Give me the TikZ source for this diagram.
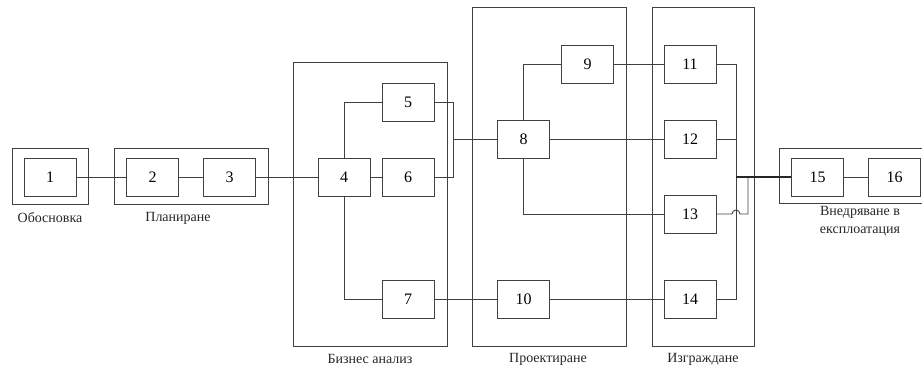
\documentclass[tikz,border=0pt]{standalone}
\usepackage{fontspec}
\setmainfont{Liberation Serif}
\begin{document}
\begin{tikzpicture}[x=1pt,y=-1pt,
  ln/.style={draw=black!75,line width=0.9pt},
  box/.style={ln,minimum width=52pt,minimum height=38pt,inner sep=0pt,font=\fontsize{16}{16}\selectfont},
  frame/.style={ln},
  lab/.style={font=\fontsize{14}{18}\selectfont,align=center,text=black!85}]
\useasboundingbox (0,0) rectangle (922,369);
% frames
\draw[frame] (12,148) rectangle (88,204);
\draw[frame] (114,148) rectangle (268,204);
\draw[frame] (293,62) rectangle (447,346);
\draw[frame] (472,7) rectangle (626,346);
\draw[frame] (652,7) rectangle (754,346);
\draw[frame] (930,148) -- (779,148) -- (779,203) -- (930,203);
% boxes
\node[box] (b1) at (50,177) {1};
\node[box] (b2) at (152.5,177) {2};
\node[box] (b3) at (229.5,177) {3};
\node[box] (b4) at (344,177) {4};
\node[box] (b5) at (408,102) {5};
\node[box] (b6) at (408,177) {6};
\node[box] (b7) at (408,299) {7};
\node[box] (b8) at (523.5,139) {8};
\node[box] (b9) at (587.5,64) {9};
\node[box] (b10) at (523.5,299) {10};
\node[box] (b11) at (690,64) {11};
\node[box] (b12) at (690,139) {12};
\node[box] (b13) at (690,214) {13};
\node[box] (b14) at (690,299) {14};
\node[box] (b15) at (817.5,177) {15};
\node[box] (b16) at (894.5,177) {16};
% coordinates
\coordinate (m1) at (453,139);
\coordinate (r5) at (453,102);
\coordinate (r6) at (453,177);
\coordinate (j11) at (736,64);
\coordinate (j12) at (736,139);
\coordinate (j14) at (736,299);
\coordinate (jm) at (736,177);
\coordinate (h1) at (732,214);
\coordinate (k13) at (748,214);
\coordinate (k13t) at (748,177);
% connectors
\draw[ln] (b1) -- (b2);
\draw[ln] (b2) -- (b3);
\draw[ln] (b3) -- (b4);
\draw[ln] (b4) -- (b6);
\draw[ln] (b4.north) |- (b5.west);
\draw[ln] (b4.south) |- (b7.west);
\draw[ln] (b5.east) -- (r5) -- (r6) -- (b6.east);
\draw[ln] (m1) -- (b8.west);
\draw[ln] (b8.north) |- (b9.west);
\draw[ln] (b8.south) |- (b13.west);
\draw[ln] (b8) -- (b12);
\draw[ln] (b9) -- (b11);
\draw[ln] (b7) -- (b10);
\draw[ln] (b10) -- (b14);
\draw[ln] (b11.east) -- (j11) -- (j14) -- (b14.east);
\draw[ln] (b12.east) -- (j12);
\draw[ln] (b13.east) -- (h1) arc[start angle=180,end angle=360,radius=4] -- (k13) -- (k13t);
\draw[ln,line width=1.4pt,draw=black!85] (jm) -- (b15.west);
\draw[ln] (b15) -- (b16);
% labels
\node[lab] (l1) at (50,218) {Обосновка};
\node[lab] (l2) at (178,218) {Планиране};
\node[lab] (l3) at (370,359) {Бизнес анализ};
\node[lab] (l4) at (548,359) {Проектиране};
\node[lab] (l5) at (703,359) {Изграждане};
\node[lab] (l6) at (860,221) {Внедряване в\\експлоатация};
\end{tikzpicture}
\end{document}
